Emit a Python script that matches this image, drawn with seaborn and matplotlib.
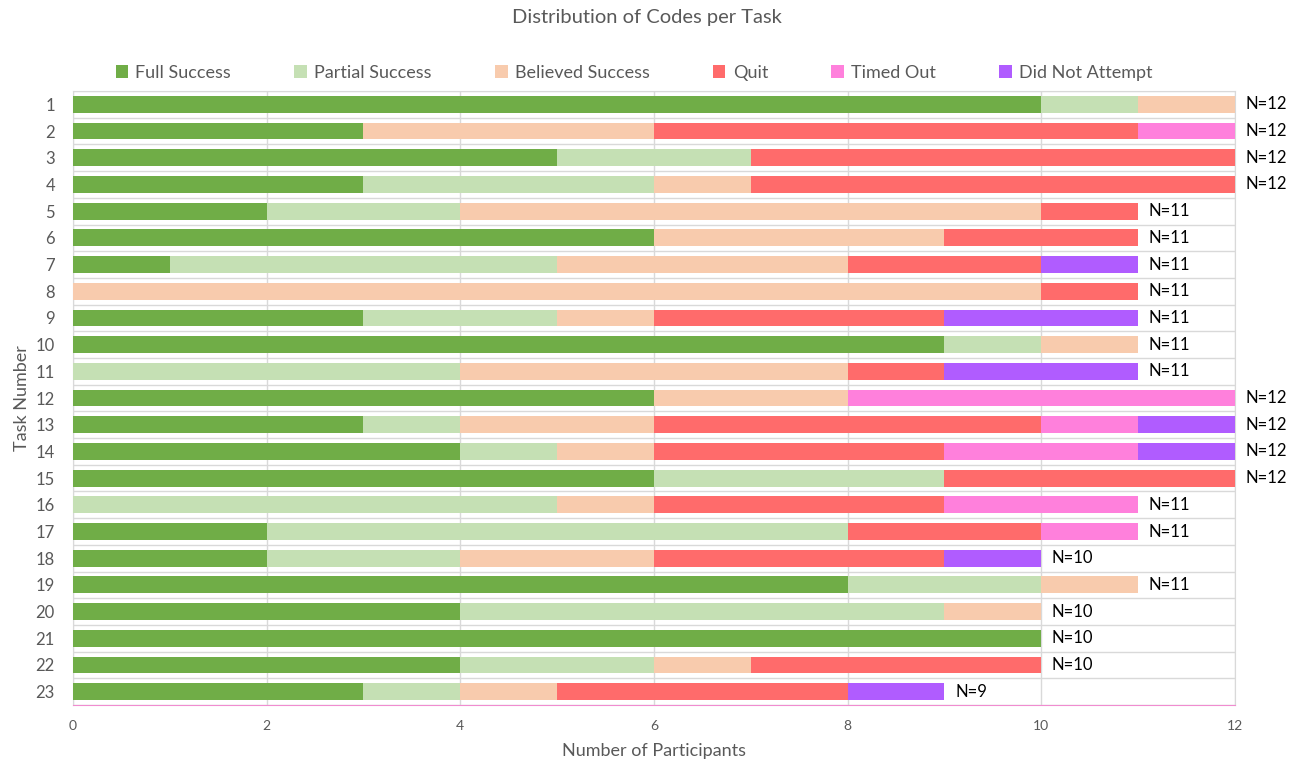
import numpy as np
import pandas as pd
import matplotlib
matplotlib.use("Agg")
import matplotlib.pyplot as plt
import seaborn as sns
from matplotlib.patches import Patch

# Datos (participantes por código y tarea)
tareas = [str(i) for i in range(1, 24)]
codigos = ["Full Success", "Partial Success", "Believed Success",
           "Quit", "Timed Out", "Did Not Attempt"]
full_success = [10, 3, 5, 3, 2, 6, 1, 0, 3, 9, 0, 6, 3, 4, 6, 0, 2, 2, 8, 4, 10, 4, 3]
partial_success = [1, 0, 2, 3, 2, 0, 4, 0, 2, 1, 4, 0, 1, 1, 3, 5, 6, 2, 2, 5, 0, 2, 1]
believed_success = [1, 3, 0, 1, 6, 3, 3, 10, 1, 1, 4, 2, 2, 1, 0, 1, 0, 2, 1, 1, 0, 1, 1]
quit_ = [0, 5, 5, 5, 1, 2, 2, 1, 3, 0, 1, 0, 4, 3, 3, 3, 2, 3, 0, 0, 0, 3, 3]
timed_out = [0, 1, 0, 0, 0, 0, 0, 0, 0, 0, 0, 4, 1, 2, 0, 2, 1, 0, 0, 0, 0, 0, 0]
did_not_attempt = [0, 0, 0, 0, 0, 0, 1, 0, 2, 0, 2, 0, 1, 1, 0, 0, 0, 1, 0, 0, 0, 0, 1]
colores = ["#70AD47", "#C5E0B4", "#F8CBAD", "#FF6B6B", "#FF80DC", "#B05CFF"]

df = pd.DataFrame({
    "Task": tareas,
    "Full Success": full_success,
    "Partial Success": partial_success,
    "Believed Success": believed_success,
    "Quit": quit_,
    "Timed Out": timed_out,
    "Did Not Attempt": did_not_attempt,
})
acum = df[codigos].cumsum(axis=1)
acum["Task"] = df["Task"]
totales = df[codigos].sum(axis=1)

sns.set_style("white")
plt.rcParams["font.family"] = ["Lato", "DejaVu Sans"]
gris = "#595959"
lineas = "#D9D9D9"

fig = plt.figure(figsize=(12.94, 7.65), dpi=100)
ax = fig.add_axes([0.0564, 0.0784, 0.898, 0.8026])

# barras apiladas: se dibuja el acumulado de la última categoría a la primera
for cod, col in reversed(list(zip(codigos, colores))):
    sns.barplot(data=acum, x=cod, y="Task", order=tareas, orient="h",
                color=col, width=0.63, linewidth=0, saturation=1, ax=ax,
                zorder=3)

for i, n in enumerate(totales):
    ax.text(n + 0.11, i, f"N={n}", va="center", ha="left",
            fontsize=12, color="black")

ax.set_xlim(0, 12)
ax.set_ylim(len(tareas) - 0.5, -0.5)
ax.set_xticks(np.arange(0, 13, 2))
ax.set_yticks(range(len(tareas)))
ax.set_yticklabels(tareas)
for y in np.arange(-0.5, len(tareas), 1):
    ax.axhline(y, color=lineas, lw=1, zorder=1)
for x in np.arange(0, 13, 2):
    ax.axvline(x, color=lineas, lw=1, zorder=1)
for s in ["top", "right", "left"]:
    ax.spines[s].set_color(lineas)
ax.spines["bottom"].set_color("#F08CD0")
ax.tick_params(axis="x", length=0, labelsize=10, colors=gris, pad=11)
ax.tick_params(axis="y", length=0, labelsize=12, colors=gris, pad=13)

ax.set_xlabel("Number of Participants", fontsize=13, color=gris, labelpad=8)
ax.set_ylabel("Task Number", fontsize=13, color=gris, labelpad=4)
fig.suptitle("Distribution of Codes per Task", fontsize=14.5, color=gris, y=0.988)

handles = [Patch(facecolor=c, edgecolor="none") for c in colores]
fig.legend(handles, codigos, loc="center", bbox_to_anchor=(0.49, 0.905),
           ncol=6, frameon=False, fontsize=13, labelcolor=gris,
           handlelength=0.7, handleheight=0.7, handletextpad=0.4,
           columnspacing=3.5)

fig.savefig("out.png", dpi=100)
